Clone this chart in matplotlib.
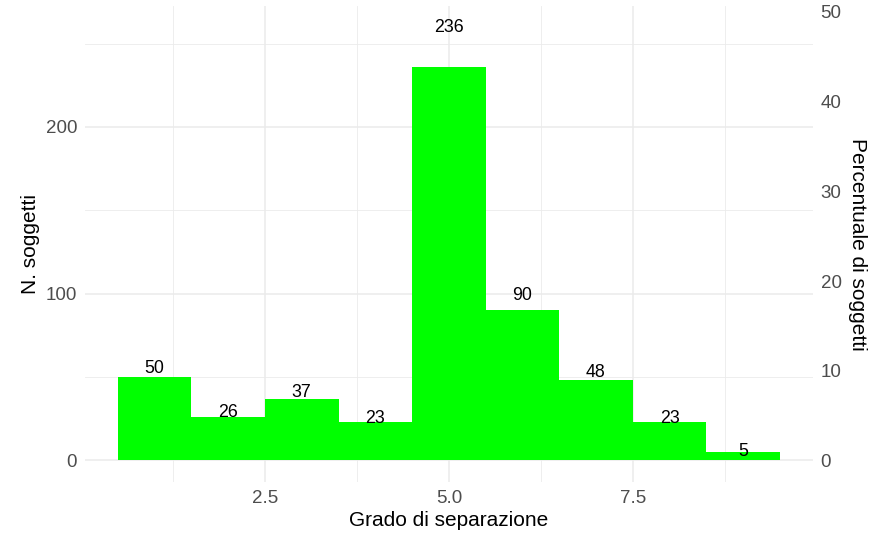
import matplotlib
matplotlib.use("Agg")
import matplotlib.pyplot as plt
import numpy as np

plt.rcParams['font.family'] = ['Liberation Sans', 'DejaVu Sans']

grado = [1, 2, 3, 4, 5, 6, 7, 8, 9]
soggetti = [50, 26, 37, 23, 236, 90, 48, 23, 5]
x_ticks = [2.5, 5.0, 7.5]
x_tick_labels = ["2.5", "5.0", "7.5"]
y_ticks = [0, 100, 200]
pct_ticks = [0, 10, 20, 30, 40, 50]

total = sum(soggetti)

W, H = 882, 534
fig = plt.figure(figsize=(W / 100, H / 100), dpi=100)
left, right, top, bottom = 84.7, 813, 6, 482
ax = fig.add_axes([left / W, 1 - bottom / H, (right - left) / W, (bottom - top) / H])

ax.bar(grado, soggetti, width=1.0, color="#00FF00", zorder=2, linewidth=0)
for xv, yv in zip(grado, soggetti):
    ax.text(xv, yv * 1.1, str(yv), ha="center", va="center", fontsize=12.8, color="black", zorder=3)

ymax = max(soggetti) * 1.1
ax.set_ylim(-0.05 * ymax, ymax * 1.05)
ax.set_xlim(0.05, 9.95)

grid_c = "#EBEBEB"
ax.set_xticks(x_ticks)
ax.set_xticklabels(x_tick_labels)
ax.set_xticks([1.25, 3.75, 6.25, 8.75], minor=True)
ax.set_yticks(y_ticks)
ax.set_yticks([50, 150, 250], minor=True)
ax.grid(True, which="major", color=grid_c, linewidth=1.1, zorder=0)
ax.grid(True, which="minor", color=grid_c, linewidth=0.6, zorder=0)
ax.set_axisbelow(True)
for s in ax.spines.values():
    s.set_visible(False)
ax.tick_params(which="both", length=0, labelsize=13.5, labelcolor="#4D4D4D", pad=5.5)

ax.set_xlabel("Grado di separazione", fontsize=15, labelpad=3)
ax.set_ylabel("N. soggetti", fontsize=15, labelpad=4)

sec = ax.secondary_yaxis("right", functions=(lambda c: c / total * 100, lambda p: p * total / 100))
sec.set_yticks(pct_ticks)
sec.tick_params(length=0, labelsize=13.5, labelcolor="#4D4D4D", pad=5.5)
for s in sec.spines.values():
    s.set_visible(False)
sec.set_ylabel("Percentuale di soggetti", fontsize=15, rotation=-90, labelpad=18)

fig.savefig("out.png", dpi=100)
